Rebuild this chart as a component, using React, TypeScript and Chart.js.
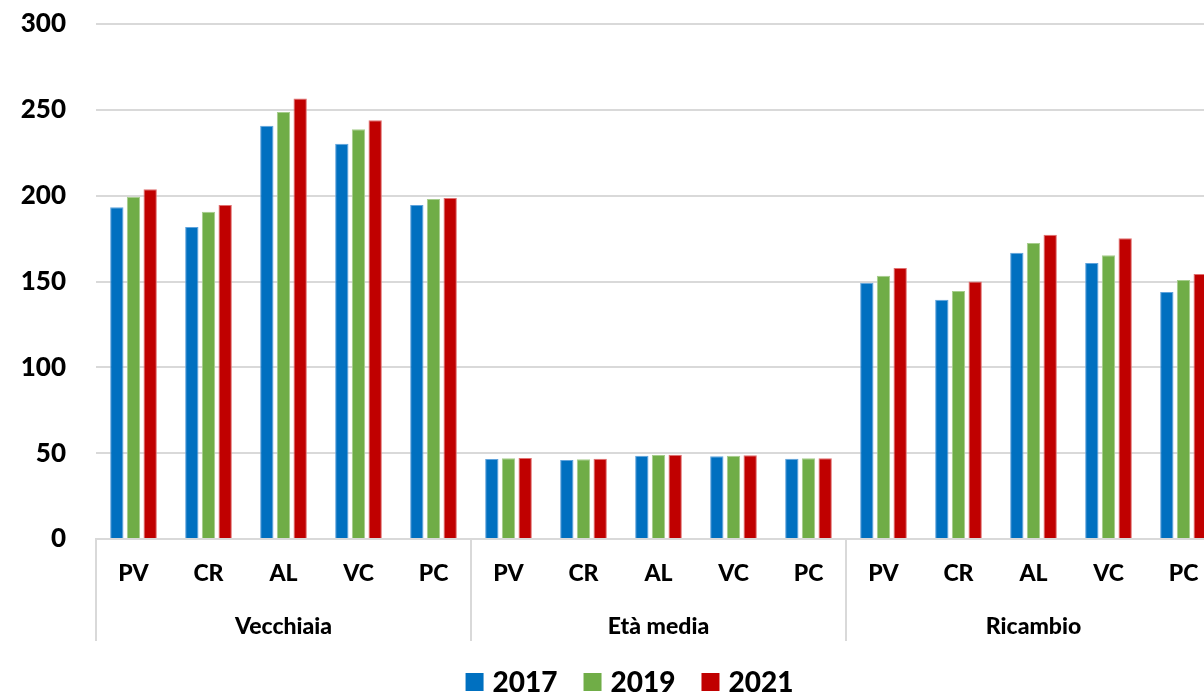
import React, { useEffect, useRef } from "react";
import { Chart, registerables } from "chart.js";

Chart.register(...registerables);

const groups = ["Vecchiaia", "Età media", "Ricambio"];
const provinces = ["PV", "CR", "AL", "VC", "PC"];
const years = ["2017", "2019", "2021"];
const yTicks = [0, 50, 100, 150, 200, 250, 300];

const v2017 = [193.3, 181.8, 240.7, 230.2, 194.5, 46.6, 46.0, 48.5, 48.2, 46.8, 149.2, 139.3, 166.8, 160.8, 143.9];
const v2019 = [199.3, 190.6, 248.8, 238.7, 198.0, 47.0, 46.4, 49.0, 48.5, 47.0, 153.3, 144.5, 172.5, 165.3, 150.9];
const v2021 = [203.8, 194.6, 256.6, 244.0, 198.7, 47.2, 46.8, 49.1, 48.8, 47.0, 157.9, 150.0, 177.3, 175.2, 154.4];

const colors = ["#0070c0", "#70ad47", "#c00000"];
const edgeColors = ["#5fa3dc", "#a6cd8c", "#e07070"];

const FONT = 'Lato, "Open Sans", sans-serif';

export default function App() {
  const ref = useRef<HTMLCanvasElement | null>(null);

  useEffect(() => {
    const canvas = ref.current;
    if (!canvas) return;
    const labels: string[] = [];
    groups.forEach((g) => provinces.forEach((p) => labels.push(g + "|" + p)));
    const series = [v2017, v2019, v2021];

    const axisPlugin = {
      id: "groupAxis",
      afterDraw(chart: any) {
        const ctx = chart.ctx;
        const xs = chart.scales.x;
        const area = chart.chartArea;
        const n = labels.length;
        ctx.save();
        ctx.strokeStyle = "#d9d9d9";
        ctx.lineWidth = 2;
        for (let g = 0; g <= groups.length; g++) {
          const idx = g * provinces.length;
          let x: number;
          if (idx === 0) x = area.left;
          else if (idx >= n) x = area.right;
          else x = (xs.getPixelForValue(idx - 1) + xs.getPixelForValue(idx)) / 2;
          ctx.beginPath();
          ctx.moveTo(x, area.bottom);
          ctx.lineTo(x, area.bottom + 102);
          ctx.stroke();
        }
        ctx.fillStyle = "#000";
        ctx.textAlign = "center";
        ctx.textBaseline = "middle";
        ctx.font = "900 23px " + FONT;
        for (let i = 0; i < n; i++) {
          const x = xs.getPixelForValue(i);
          ctx.fillText(provinces[i % provinces.length], x, area.bottom + 35);
        }
        for (let g = 0; g < groups.length; g++) {
          const x = (xs.getPixelForValue(g * 5) + xs.getPixelForValue(g * 5 + 4)) / 2;
          ctx.fillText(groups[g], x, area.bottom + 88);
        }
        // legend
        ctx.font = "900 28px " + FONT;
        const box = 18;
        const gap = 9;
        const itemGap = 26;
        const ds = chart.data.datasets;
        let total = 0;
        const widths = ds.map((d: any) => ctx.measureText(d.label).width);
        widths.forEach((w: number, i: number) => {
          total += box + gap + w + (i < widths.length - 1 ? itemGap : 0);
        });
        let x = chart.width / 2 - total / 2;
        const cy = 682;
        ctx.textAlign = "left";
        ds.forEach((d: any, i: number) => {
          ctx.fillStyle = d.backgroundColor;
          ctx.fillRect(x, cy - box / 2, box, box);
          ctx.fillStyle = "#000";
          ctx.fillText(d.label, x + box + gap, cy + 1);
          x += box + gap + widths[i] + itemGap;
        });
        ctx.restore();
      },
    };

    const chart = new Chart(canvas, {
      type: "bar",
      data: {
        labels,
        datasets: years.map((y, i) => ({
          label: y,
          data: series[i],
          backgroundColor: colors[i],
          borderColor: edgeColors[i],
          borderWidth: 1,
          categoryPercentage: 0.667,
          barPercentage: 0.8,
        })),
      },
      options: {
        responsive: false,
        animation: false,
        devicePixelRatio: 1,
        layout: { padding: { top: 24, right: 38, left: 0, bottom: 0 } },
        plugins: { legend: { display: false }, tooltip: { enabled: false } },
        scales: {
          x: {
            grid: { display: false, drawTicks: false },
            border: { display: true, color: "#d9d9d9", width: 2 },
            ticks: { display: false },
            afterFit(scale: any) {
              scale.height = 154;
              scale.paddingLeft = 0;
              scale.paddingRight = 0;
            },
          },
          y: {
            min: 0,
            max: 300,
            afterBuildTicks(scale: any) {
              scale.ticks = yTicks.map((v) => ({ value: v }));
            },
            grid: { color: "#d9d9d9", lineWidth: 2, drawTicks: false },
            border: { display: false },
            ticks: {
              color: "#000",
              padding: 30,
              font: { family: FONT, size: 26, weight: "900" },
            },
            afterFit(scale: any) {
              scale.width = 96;
              scale.paddingTop = 0;
              scale.paddingBottom = 0;
            },
          },
        },
      },
      plugins: [axisPlugin],
    } as any);
    return () => chart.destroy();
  }, []);

  return (
    <div style={{ position: "fixed", left: 0, top: 0, width: 1204, height: 693, overflow: "hidden", background: "#fff" }}>
      <canvas ref={ref} width={1259} height={693} style={{ width: 1259, height: 693, display: "block" }} />
    </div>
  );
}
